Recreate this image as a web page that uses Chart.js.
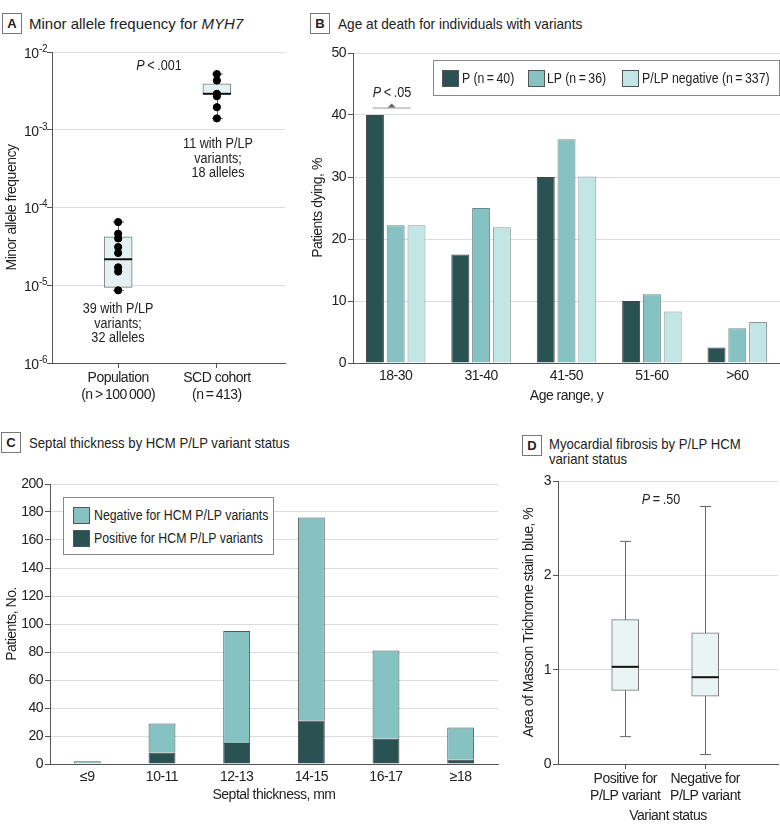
<!DOCTYPE html>
<html><head><meta charset="utf-8">
<script src="https://cdn.jsdelivr.net/npm/chart.js@4.4.1/dist/chart.umd.min.js"></script>
<style>
body{margin:0;background:#fff;width:780px;height:834px;position:relative;overflow:hidden;font-family:"Liberation Sans",Arial,sans-serif;color:#222;}
canvas{position:absolute;}
.t{position:absolute;font-size:15px;white-space:nowrap;line-height:15px;transform-origin:0 0;}
.lbl{position:absolute;border:1px solid #777;width:18px;height:19px;font-weight:bold;font-size:13px;text-align:center;line-height:19px;}
.ann{position:absolute;font-size:14px;text-align:center;line-height:14.5px;white-space:nowrap;transform:translate(-50%,-50%) scaleX(0.9);}
.legend{position:absolute;background:#fff;border:1px solid #888;font-size:14px;white-space:nowrap;}
.sw{position:absolute;width:15px;height:15px;border:1px solid #555;}
.lt{position:absolute;line-height:16px;transform:scaleX(0.88);transform-origin:0 0;}
</style></head>
<body>
<canvas id="cA" width="300" height="370" style="left:0;top:40px"></canvas>
<canvas id="cB" width="480" height="370" style="left:300px;top:40px"></canvas>
<canvas id="cC" width="500" height="340" style="left:0;top:470px"></canvas>
<canvas id="cD" width="280" height="364" style="left:500px;top:470px"></canvas>

<div class="lbl" style="left:2px;top:13px">A</div>
<div class="t" style="left:29px;top:16px">Minor allele frequency for <i>MYH7</i></div>
<div class="lbl" style="left:310px;top:13px">B</div>
<div class="t" style="left:338px;top:16px;transform:scaleX(0.91)">Age at death for individuals with variants</div>
<div class="lbl" style="left:1px;top:432px">C</div>
<div class="t" style="left:29px;top:435px;transform:scaleX(0.876)">Septal thickness by HCM P/LP variant status</div>
<div class="lbl" style="left:522px;top:435px">D</div>
<div class="t" style="left:549px;top:436px;transform:scaleX(0.875)">Myocardial fibrosis by P/LP HCM<br>variant status</div>

<div class="ann" style="left:159px;top:65px"><i>P</i>&thinsp;&lt;&thinsp;.001</div>
<div class="ann" style="left:218px;top:158px">11 with P/LP<br>variants;<br>18 alleles</div>
<div class="ann" style="left:118px;top:323px">39 with P/LP<br>variants;<br>32 alleles</div>
<div class="ann" style="left:392px;top:92px"><i>P</i>&thinsp;&lt;&thinsp;.05</div>
<div class="ann" style="left:661px;top:499px"><i>P</i>&thinsp;=&thinsp;.50</div>

<div class="legend" style="left:433px;top:60px;width:345px;height:34px">
  <div class="sw" style="left:8px;top:9px;background:#2a5252"></div><div class="lt" style="left:28px;top:9px">P (n&thinsp;=&thinsp;40)</div>
  <div class="sw" style="left:94px;top:9px;background:#85c2c1"></div><div class="lt" style="left:113px;top:9px">LP (n&thinsp;=&thinsp;36)</div>
  <div class="sw" style="left:188px;top:9px;background:#c2e6e5"></div><div class="lt" style="left:208px;top:9px">P/LP negative (n&thinsp;=&thinsp;337)</div>
</div>
<div class="legend" style="left:63px;top:497px;width:209px;height:56px">
  <div class="sw" style="left:9px;top:9px;background:#85c2c1"></div><div class="lt" style="left:30px;top:9px">Negative for HCM P/LP variants</div>
  <div class="sw" style="left:9px;top:32px;background:#2a5252"></div><div class="lt" style="left:30px;top:32px">Positive for HCM P/LP variants</div>
</div>

<script>
// ---------- Data ----------
const alleleGroups = [['Population','(n\u2009>\u2009100\u2009000)'], ['SCD cohort','(n\u2009=\u2009413)']];
const alleleTicks = [1e-6, 1e-5, 1e-4, 1e-3, 1e-2];
const popPoints = [6.5e-5, 4.6e-5, 4.0e-5, 3.1e-5, 2.6e-5, 1.7e-5, 1.5e-5, 8.6e-6];
const scdPoints = [5.2e-3, 4.3e-3, 2.9e-3, 2.7e-3, 1.95e-3, 1.4e-3];
const alleleMin = [8.6e-6, 1.4e-3];
const alleleQ1 = [9.4e-6, 2.9e-3];
const alleleMedian = [2.16e-5, 2.9e-3];
const alleleQ3 = [4.2e-5, 3.9e-3];
const alleleMax = [6.5e-5, 5.2e-3];

const ageGroups = ['18-30', '31-40', '41-50', '51-60', '>60'];
const pctP = [40, 17.5, 30, 10, 2.5];
const pctLP = [22.2, 25, 36.1, 11.1, 5.6];
const pctNeg = [22.2, 21.9, 30.1, 8.3, 6.6];

const septalBins = ['\u22649', '10-11', '12-13', '14-15', '16-17', '\u226518'];
const septalPositive = [0, 8, 15, 31, 18, 3];
const septalNegative = [2, 21, 80, 145, 63, 23];

const fibrosisGroups = [['Positive for','P/LP variant'], ['Negative for','P/LP variant']];
const fibMin = [0.29, 0.10];
const fibQ1 = [0.78, 0.72];
const fibMedian = [1.03, 0.92];
const fibQ3 = [1.53, 1.39];
const fibMax = [2.36, 2.73];

// ---------- Styles ----------
const FONT = '"Liberation Sans",Arial,sans-serif';
const cDark = '#2a5252', cMid = '#85c2c1', cLight = '#c2e6e5';
const gridC = '#dcdcdc', axisC = '#555', textC = '#222';
Chart.defaults.font.family = FONT;
Chart.defaults.font.size = 14;
Chart.defaults.color = textC;
Chart.defaults.animation = false;
Chart.defaults.plugins.legend.display = false;
Chart.defaults.plugins.tooltip.enabled = false;

// slightly tighter text, closer to the condensed typeface of the original
const SPACING = '-0.5px';
Chart.register({
  id: 'narrowText',
  beforeLayout(chart) { chart.ctx.letterSpacing = SPACING; },
  beforeDraw(chart) { chart.ctx.letterSpacing = SPACING; }
});

// power-of-ten tick labels with a real raised exponent
const powerTicks = {
  id: 'powerTicks',
  afterDraw(chart) {
    const {ctx, scales: {y}} = chart;
    ctx.save();
    ctx.fillStyle = textC;
    ctx.textBaseline = 'middle';
    ctx.textAlign = 'right';
    y.ticks.forEach(t => {
      const py = y.getPixelForValue(t.value);
      const exp = String(Math.round(Math.log10(t.value)));
      const right = y.right - 5;
      ctx.font = '10px ' + FONT;
      const ew = ctx.measureText(exp).width;
      ctx.fillText(exp, right, py - 3);
      ctx.font = '14px ' + FONT;
      ctx.fillText('10', right - ew - 0.5, py + 2);
    });
    ctx.restore();
  }
};

function boxPlugin(id, mins, meds, maxs, capW, boxIndex) {
  return {
    id,
    beforeDatasetsDraw(chart) {
      const {ctx, scales: {x, y}} = chart;
      ctx.save();
      ctx.strokeStyle = '#666'; ctx.lineWidth = 1;
      mins.forEach((m, i) => {
        const px = Math.round(x.getPixelForValue(i)) + 0.5;
        const y1 = y.getPixelForValue(m), y2 = y.getPixelForValue(maxs[i]);
        ctx.beginPath();
        ctx.moveTo(px, y1); ctx.lineTo(px, y2);
        ctx.moveTo(px - capW / 2, y1); ctx.lineTo(px + capW / 2, y1);
        ctx.moveTo(px - capW / 2, y2); ctx.lineTo(px + capW / 2, y2);
        ctx.stroke();
      });
      ctx.restore();
    },
    afterDatasetDraw(chart, args) {
      if (args.index !== boxIndex) return;
      const {ctx, scales: {y}} = chart;
      const meta = chart.getDatasetMeta(boxIndex);
      ctx.save();
      ctx.strokeStyle = '#111'; ctx.lineWidth = 2;
      meta.data.forEach((bar, i) => {
        const py = y.getPixelForValue(meds[i]);
        ctx.beginPath();
        ctx.moveTo(bar.x - bar.width / 2, py); ctx.lineTo(bar.x + bar.width / 2, py);
        ctx.stroke();
      });
      ctx.restore();
    }
  };
}

// ---------- Panel A ----------
new Chart(document.getElementById('cA'), {
  type: 'bar',
  data: {
    datasets: [
      { type: 'scatter', order: 0,
        data: popPoints.map(v => ({x: 0, y: v})).concat(scdPoints.map(v => ({x: 1, y: v}))),
        pointRadius: 3.6, backgroundColor: '#000', borderColor: '#000' },
      { type: 'bar', order: 1,
        data: alleleQ1.map((q, i) => ({x: i, y: [q, alleleQ3[i]]})),
        backgroundColor: '#e3f1f2', borderColor: '#777', borderWidth: 1, borderSkipped: false, barThickness: 28 }
    ]
  },
  options: {
    responsive: false,
    layout: {padding: {left: 0, top: 12, right: 15, bottom: 0}},
    scales: {
      x: { type: 'linear', min: -0.67, max: 1.69, offset: false,
        afterBuildTicks: s => { s.ticks = [{value: 0}, {value: 1}]; },
        afterFit: s => { s.height = 47; },
        ticks: { callback: v => alleleGroups[v], padding: 2, maxRotation: 0, autoSkip: false },
        grid: { drawOnChartArea: false, offset: false, tickLength: 5, tickColor: axisC },
        border: { color: axisC } },
      y: { type: 'logarithmic', min: 1e-6, max: 1e-2,
        afterBuildTicks: s => { s.ticks = alleleTicks.map(v => ({value: v})); },
        afterFit: s => { s.width = 52; },
        ticks: { display: false },
        grid: { color: gridC, tickColor: axisC, tickLength: 5 },
        border: { color: axisC },
        title: { display: true, text: 'Minor allele frequency', font: {size: 14}, padding: {top: 4, bottom: 0} } }
    }
  },
  plugins: [boxPlugin('boxA', alleleMin, alleleMedian, alleleMax, 11, 1), powerTicks]
});

// ---------- Panel B ----------
const pAnnot = {
  id: 'pAnnot',
  afterDatasetsDraw(chart) {
    const {ctx, scales: {x, y}} = chart;
    const cx = x.getPixelForValue(0);
    const ly = y.getPixelForValue(41.2);
    ctx.save();
    ctx.strokeStyle = '#999'; ctx.lineWidth = 1;
    ctx.beginPath(); ctx.moveTo(cx - 23, ly + 0.5); ctx.lineTo(cx + 15, ly + 0.5); ctx.stroke();
    ctx.fillStyle = '#666';
    ctx.beginPath(); ctx.moveTo(cx - 8, ly); ctx.lineTo(cx - 4, ly - 4); ctx.lineTo(cx, ly); ctx.closePath(); ctx.fill();
    ctx.restore();
  }
};
const barB = (data, color, border) => ({ data, backgroundColor: color, borderColor: border, borderWidth: 1,
  categoryPercentage: 0.73, barPercentage: 0.865 });
new Chart(document.getElementById('cB'), {
  type: 'bar',
  data: { labels: ageGroups, datasets: [ barB(pctP, cDark, '#444'), barB(pctLP, cMid, '#6a8a8a'), barB(pctNeg, cLight, '#8a9a9a') ] },
  options: {
    responsive: false,
    layout: {padding: {left: 0, top: 13, right: 0, bottom: 0}},
    scales: {
      x: { afterFit: s => { s.height = 47; },
        ticks: { padding: 5 },
        grid: { display: false, drawTicks: false },
        border: { color: axisC },
        title: { display: true, text: 'Age range, y', padding: {top: 0, bottom: 5} } },
      y: { min: 0, max: 50,
        afterFit: s => { s.width = 53; },
        ticks: { stepSize: 10, padding: 2 },
        grid: { color: gridC, tickColor: axisC, tickLength: 5 },
        border: { color: axisC },
        title: { display: true, text: 'Patients dying, %', padding: {top: 10, bottom: 0} } }
    }
  },
  plugins: [pAnnot]
});

// ---------- Panel C ----------
new Chart(document.getElementById('cC'), {
  type: 'bar',
  data: { labels: septalBins, datasets: [
    { label: 'Positive for HCM P/LP variants', data: septalPositive, backgroundColor: cDark, borderColor: '#444', borderWidth: 1, categoryPercentage: 1, barPercentage: 0.36 },
    { label: 'Negative for HCM P/LP variants', data: septalNegative, backgroundColor: cMid, borderColor: '#555', borderWidth: 1, categoryPercentage: 1, barPercentage: 0.36 }
  ] },
  options: {
    responsive: false,
    layout: {padding: {left: 0, top: 14, right: 2, bottom: 0}},
    scales: {
      x: { stacked: true,
        afterFit: s => { s.height = 46; },
        ticks: { padding: 5 },
        grid: { display: false, drawTicks: false },
        border: { color: axisC },
        title: { display: true, text: 'Septal thickness, mm', padding: {top: 0, bottom: 6} } },
      y: { stacked: true, min: 0, max: 200,
        afterFit: s => { s.width = 50; },
        ticks: { stepSize: 20, padding: 2 },
        grid: { color: gridC, tickColor: axisC, tickLength: 5 },
        border: { color: axisC },
        title: { display: true, text: 'Patients, No.', padding: {top: 4, bottom: 0} } }
    }
  }
});

// ---------- Panel D ----------
new Chart(document.getElementById('cD'), {
  type: 'bar',
  data: { datasets: [
    { data: fibQ1.map((q, i) => ({x: i, y: [q, fibQ3[i]]})),
      backgroundColor: '#eaf4f5', borderColor: '#777', borderWidth: 1, borderSkipped: false, barThickness: 27 }
  ] },
  options: {
    responsive: false,
    layout: {padding: {left: 0, top: 11, right: 2, bottom: 0}},
    scales: {
      x: { type: 'linear', min: -0.84, max: 1.91, offset: false,
        afterBuildTicks: s => { s.ticks = [{value: 0}, {value: 1}]; },
        afterFit: s => { s.height = 70; },
        ticks: { callback: v => fibrosisGroups[v], padding: 2, maxRotation: 0, autoSkip: false },
        grid: { drawOnChartArea: false, offset: false, tickLength: 5, tickColor: axisC },
        border: { color: axisC },
        title: { display: true, text: 'Variant status', padding: {top: 0, bottom: 9} } },
      y: { min: 0, max: 3,
        afterFit: s => { s.width = 58; },
        ticks: { stepSize: 1, padding: 2 },
        grid: { color: gridC, tickColor: axisC, tickLength: 5 },
        border: { color: axisC },
        title: { display: true, text: 'Area of Masson Trichrome stain blue, %', padding: {top: 21, bottom: 0} } }
    }
  },
  plugins: [boxPlugin('boxD', fibMin, fibMedian, fibMax, 11, 0)]
});
</script>
</body></html>
